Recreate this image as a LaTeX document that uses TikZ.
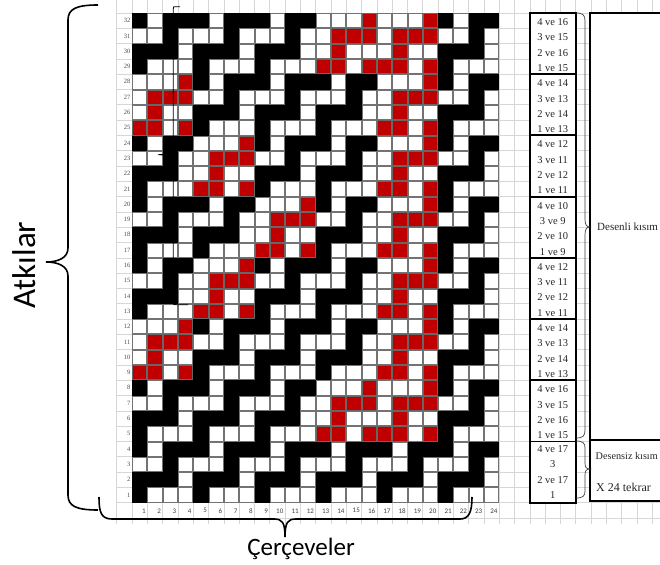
\documentclass[tikz,border=0pt]{standalone}
\usepackage{fontspec}
\setmainfont{Liberation Serif}
\newfontfamily\calib{Carlito}
\def\cellw{15.3}
\def\gx{132}
\def\gy{13}
\newcommand\drawcell[3]{\path[#3] ({\gx+((#1)-1)*\cellw+0.5},{\gy+(32-(#2))*\cellw+0.5}) rectangle ++(14.3,14.3);}
\newcommand\drawmotif[2]{%
  \foreach \ii in {0,...,3}{\foreach \jj in {0,...,3}{\drawcell{#1+\ii}{#2+\jj}{wcell}}}%
  \foreach \ii/\jj in {0/0,1/0,3/0,1/1,1/2,2/2,3/2,3/3}{\drawcell{#1+\ii}{#2+\jj}{rcell}}}
\begin{document}
\begin{tikzpicture}[x=1pt,y=-1pt]
\definecolor{cred}{RGB}{192,0,0}
\definecolor{gridgray}{RGB}{215,215,215}
\tikzset{
  wcell/.style={fill=white,draw=black!55,line width=0.7pt},
  rcell/.style={fill=cred,draw=black!60,line width=0.7pt},
  bgline/.style={draw=gridgray,line width=0.6pt},
  thickbox/.style={draw=black,line width=1.8pt,fill=white},
  bigbrace/.style={draw=black,line width=1.6pt},
  thinbrace/.style={draw=black!75,line width=0.7pt},
  lbl/.style={font=\fontsize{10.5}{11}\selectfont,text=black!85,inner sep=0pt},
  sidetext/.style={text=black!85,inner sep=0pt,anchor=west},
  rownum/.style={font=\fontsize{6.5}{7}\selectfont,text=black!70,inner sep=0pt,anchor=east},
  colnum/.style={font=\calib\fontsize{7}{8}\selectfont,text=black!75,inner sep=0pt,anchor=east},
  bigtext/.style={font=\calib\fontsize{25}{30}\selectfont,text=black,inner sep=0pt},
}
\useasboundingbox (0,0) rectangle (660,564);
\clip (0,0) rectangle (660,564);
\fill[white] (0,0) rectangle (660,564);
% spreadsheet background grid
\foreach \kk in {-1,...,34} \draw[bgline] ({\gx+\kk*\cellw},0) -- ({\gx+\kk*\cellw},524);
\foreach \jj in {-1,...,33} \draw[bgline] ({\gx-\cellw},{\gy+\jj*\cellw}) -- (660,{\gy+\jj*\cellw});
% weave grid
\fill[black] (\gx,\gy) rectangle ({\gx+24*\cellw},{\gy+32*\cellw});
\foreach \rr in {1,5,...,29}{\foreach \kk in {0,...,5}{\foreach \dd in {2,3,4}{\drawcell{\kk*4+\dd}{\rr}{wcell}}}}
\foreach \rr in {2,6,...,30}{\foreach \kk in {0,...,5}{\drawcell{\kk*4+4}{\rr}{wcell}}}
\foreach \rr in {3,7,...,31}{\foreach \kk in {0,...,5}{\foreach \dd in {1,2,4}{\drawcell{\kk*4+\dd}{\rr}{wcell}}}}
\foreach \rr in {4,8,...,32}{\foreach \kk in {0,...,5}{\drawcell{\kk*4+2}{\rr}{wcell}}}
\foreach \bb/\ss in {5/13,9/1,13/5,17/9,21/5,25/1,29/13}{\drawmotif{\ss}{\bb}\drawmotif{17}{\bb}}
% stray brace line inside the grid
\draw[line width=0.8pt] (180,6.7) -- (175,6.7) .. controls (173.3,6.7) .. (173.3,9) -- (173.3,150) .. controls (173.3,154) .. (158,154.7) .. controls (173.3,155.5) .. (173.3,160) -- (173.3,302) .. controls (173.3,304.7) .. (176,304.7) -- (188,304.7);
% row and column numbers
\foreach \rr in {1,...,32} \node[rownum] (rl\rr) at (130.5,{\gy+(32-\rr+0.5)*\cellw}) {\rr};
\foreach \cc in {1,...,24} \node[colnum] (cl\cc) at ({\gx+\cc*\cellw-1.5},{\gy+32.5*\cellw+0.5}) {\cc};
% label column
\foreach \bb in {0,...,7} \draw[thickbox] ({\gx+26*\cellw},{\gy+\bb*4*\cellw}) rectangle ({\gx+29*\cellw},{\gy+(\bb+1)*4*\cellw});
\foreach \bb/\aa in {0/15,1/13,2/11,3/9,4/11,5/13,6/15}{
  \pgfmathtruncatemacro\nb{\aa+1}
  \node[lbl] (la\bb) at (552.7,{\gy+(\bb*4+0.5)*\cellw+1.5}) {4 ve \nb};
  \node[lbl] (lb\bb) at (552.7,{\gy+(\bb*4+1.5)*\cellw+1.5}) {3 ve \aa};
  \node[lbl] (lc\bb) at (552.7,{\gy+(\bb*4+2.5)*\cellw+1.5}) {2 ve \nb};
  \node[lbl] (ld\bb) at (552.7,{\gy+(\bb*4+3.5)*\cellw+1.5}) {1 ve \aa};
}
\node[lbl] (le1) at (552.7,{\gy+28.5*\cellw}) {4 ve 17};
\node[lbl] (le2) at (552.7,{\gy+29.5*\cellw}) {3};
\node[lbl] (le3) at (552.7,{\gy+30.5*\cellw}) {2 ve 17};
\node[lbl] (le4) at (552.7,{\gy+31.5*\cellw}) {1};
% big boxes on the right
\draw[thickbox] (590,13) rectangle (690,440);
\draw[thickbox] (590,440) rectangle (690,501);
\node[sidetext,font=\fontsize{11}{12}\selectfont] (desenli) at (597,227) {Desenli kısım};
\node[sidetext,font=\fontsize{10.2}{11}\selectfont] (desensiz) at (595.5,456) {Desensiz kısım};
\node[sidetext,font=\fontsize{12}{13}\selectfont] (tekrar) at (596,487) {X 24 tekrar};
% right braces
\draw[thinbrace] (576,13) .. controls (583,13) and (585,15) .. (585,21) -- (585,219) .. controls (585,224) and (586,227) .. (590,227) .. controls (586,227) and (585,230) .. (585,235) -- (585,430) .. controls (585,436) and (583,438) .. (576,438);
\draw[thinbrace] (576,441) .. controls (583,441) and (585,443) .. (585,448) -- (585,463) .. controls (585,467) and (586,469) .. (590,469) .. controls (586,469) and (585,471) .. (585,475) -- (585,491) .. controls (585,496) and (583,498) .. (576,498);
% left brace
\draw[bigbrace] (98,5) .. controls (76,5) and (68,9) .. (68,20) -- (68,248) .. controls (68,258) and (58,262) .. (46,262) .. controls (58,262) and (68,266) .. (68,276) -- (68,495) .. controls (68,506) and (76,510) .. (98,510);
\node[bigtext,font=\calib\fontsize{33}{36}\selectfont,rotate=90] (atk) at (24,265) {Atkılar};
% bottom brace
\draw[bigbrace] (99,497) .. controls (99,512) and (101,519) .. (112,519) -- (274,519) .. controls (282,519) and (285,522) .. (285,537) .. controls (285,522) and (288,519) .. (296,519) -- (460,519) .. controls (469,519) and (472,512) .. (472,497);
\node[bigtext,anchor=base] (cer) at (301,555) {Çerçeveler};
\end{tikzpicture}
\end{document}
